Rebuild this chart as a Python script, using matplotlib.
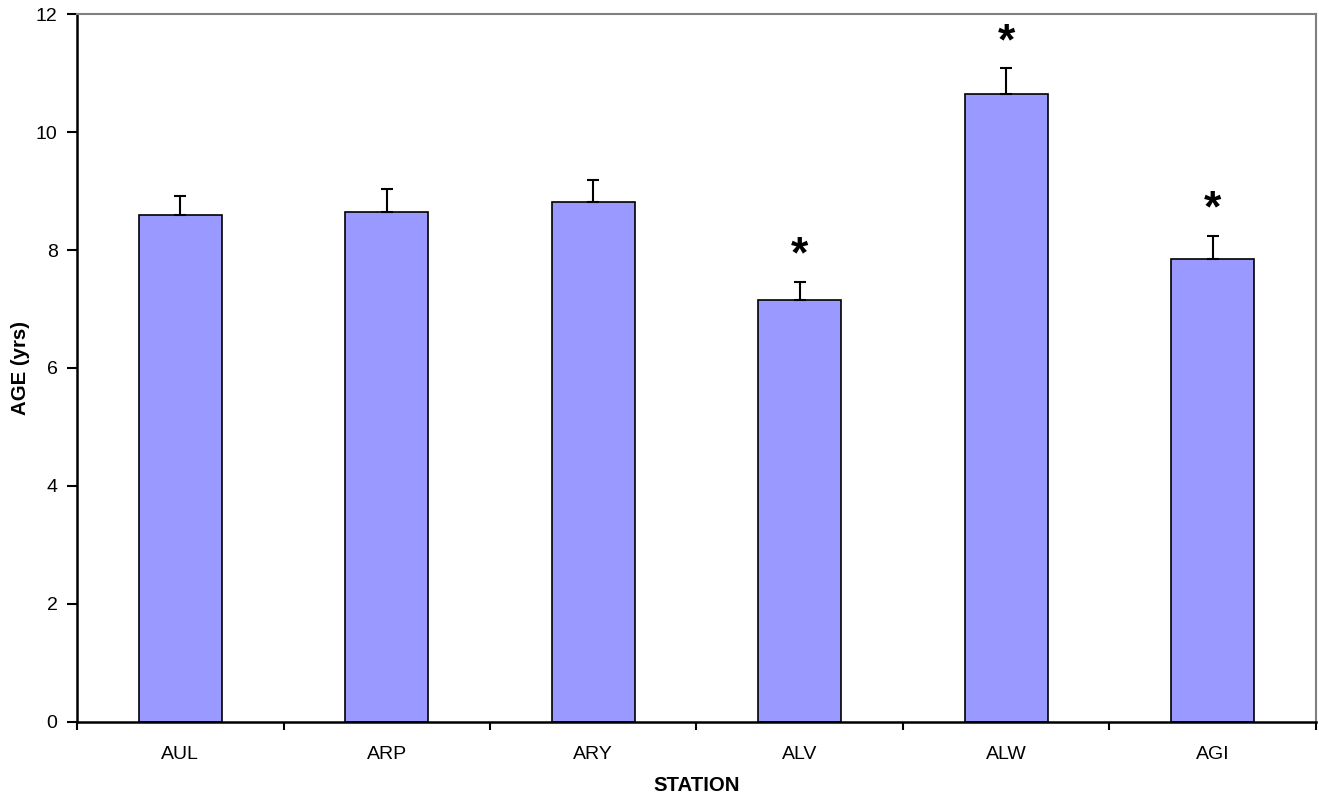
import matplotlib.pyplot as plt
import numpy as np

stations = ["AUL", "ARP", "ARY", "ALV", "ALW", "AGI"]
age = [8.60, 8.64, 8.81, 7.15, 10.64, 7.85]
sem = [0.31, 0.39, 0.38, 0.31, 0.44, 0.39]
significant = [False, False, False, True, True, True]

plt.rcParams["font.family"] = ["Liberation Sans", "DejaVu Sans"]

fig = plt.figure(figsize=(13.19, 8.02), dpi=100)
ax = fig.add_axes([0.0584, 0.0998, 0.9393, 0.8827])

x = np.arange(len(stations))
ax.bar(x, age, width=0.4, color="#9999FF", edgecolor="black", linewidth=1.2, zorder=2)
ax.errorbar(x, age, yerr=[np.zeros(len(sem)), sem], fmt="none", ecolor="black",
            elinewidth=1.5, capsize=4.5, capthick=1.5, zorder=3)

# significance stars sit a little above the error bar
for xi, yi, ei, sig in zip(x, age, sem, significant):
    if sig:
        ax.text(xi, yi + ei + 0.24, "*", ha="center", va="baseline",
                fontsize=32, fontweight="bold")

ax.set_xlim(-0.5, len(stations) - 0.5)
ax.set_ylim(0, 12)
ax.set_yticks(range(0, 13, 2))

# ticks at the category boundaries, labels at the centres
ax.set_xticks(np.arange(-0.5, len(stations), 1.0))
ax.set_xticklabels([])
ax.set_xticks(x, minor=True)
ax.set_xticklabels(stations, minor=True)
ax.tick_params(axis="x", which="minor", length=0, pad=17, labelsize=14)
ax.tick_params(axis="x", which="major", direction="out", length=6, width=1.5)
ax.tick_params(axis="y", direction="out", length=7, width=1.5, labelsize=14, pad=7)

for side in ["left", "bottom"]:
    ax.spines[side].set_linewidth(1.8)
    ax.spines[side].set_color("black")
for side in ["top", "right"]:
    ax.spines[side].set_linewidth(1.5)
    ax.spines[side].set_color("#808080")

ax.set_xlabel("STATION", fontsize=14.7, fontweight="bold", labelpad=10)
ax.set_ylabel("AGE (yrs)", fontsize=14.7, fontweight="bold", labelpad=4)

fig.savefig("out.png", dpi=100)
plt.close(fig)
